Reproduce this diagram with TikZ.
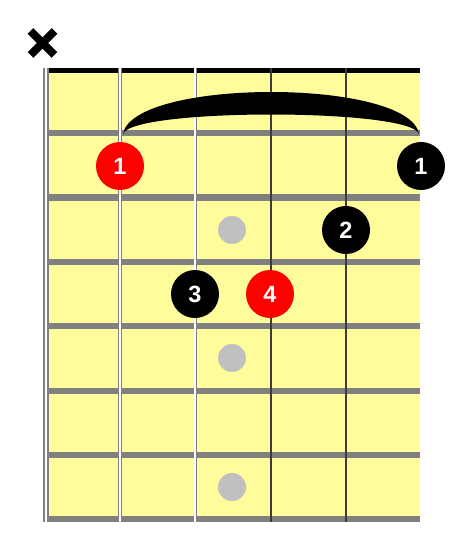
\documentclass[tikz,border=0pt]{standalone}
\usepackage{fontspec}
\setmainfont{Liberation Sans}
\usetikzlibrary{positioning}
\definecolor{boardyellow}{RGB}{255,252,156}
\definecolor{fretgray}{RGB}{128,128,128}
\definecolor{dotgray}{RGB}{192,192,192}
\definecolor{stringdark}{RGB}{60,60,60}

\begin{document}
\begin{tikzpicture}[x=1pt, y=-1pt, fret/.style={fretgray, line width=6pt}, finger/.style={circle, minimum size=48pt, inner sep=0pt, text=white, font=\fontsize{23.5}{23.5}\selectfont\bfseries}, marker/.style={circle, fill=dotgray, minimum size=28pt, inner sep=0pt}]
            \useasboundingbox (0,0) rectangle (474,545);
            % board
            \fill[boardyellow] (48,70) rectangle (420,520);
            % frets
            \draw[fret] (48,133)--(420,133);
            \draw[fret] (48,197.5)--(420,197.5);
            \draw[fret] (48,262)--(420,262);
            \draw[fret] (48,326)--(420,326);
            \draw[fret] (48,390.5)--(420,390.5);
            \draw[fret] (48,454.5)--(420,454.5);
            \draw[fret] (48,519)--(420,519);
            % nut
            \draw[black, line width=5.5pt] (48,70.5)--(420,70.5);
            % strings
            \draw[fretgray, line width=5.4pt] (45.8,68)--(45.8,522);
            \draw[white, line width=2.6pt] (45.8,68)--(45.8,522);
            \draw[fretgray, line width=3.8pt] (120,68)--(120,522);
            \draw[white, line width=1.8pt] (120,68)--(120,522);
            \draw[fretgray, line width=3pt] (195,68)--(195,522);
            \draw[white, line width=1.2pt] (195,68)--(195,522);
            \draw[stringdark, line width=1.5pt] (271,68)--(271,522);
            \draw[stringdark, line width=1.1pt] (346,68)--(346,522);
            % markers
            \node[marker] (m1) at (232,230) {};
            \node[marker] (m2) at (232,358) {};
            \node[marker] (m3) at (232,487) {};
            % muted string
            \draw[black, line width=8pt] (30.5,31)--(54.5,55);
            \draw[black, line width=8pt] (54.5,31)--(30.5,55);
            % barre
            \fill[black] (123,134) .. controls (133,78) and (409,78) .. (419,134)
                .. controls (411,108) and (131,108) .. (123,134) -- cycle;
            % fingers
            \node[finger, fill=red] (f1) at (120,166) {1};
            \node[finger, fill=black] (f1b) at (421,166) {1};
            \node[finger, fill=black] (f2) at (346,230) {2};
            \node[finger, fill=black] (f3) at (195,294) {3};
            \node[finger, fill=red] (f4) at (270,294) {4};
        \end{tikzpicture}
\end{document}
